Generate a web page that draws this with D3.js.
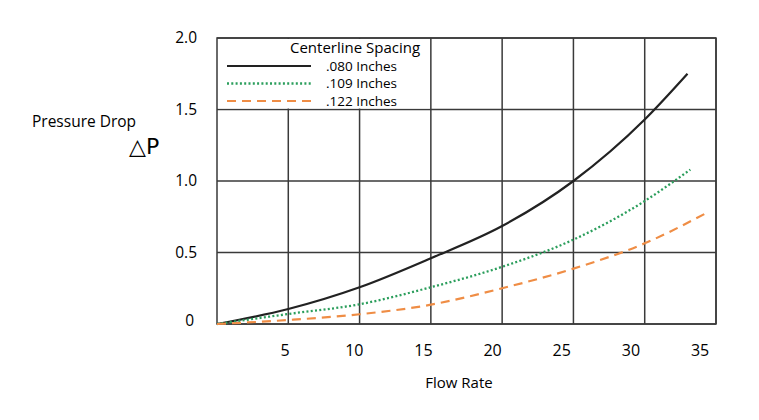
<!DOCTYPE html>
<html>
<head>
<meta charset="utf-8">
<script src="https://cdn.jsdelivr.net/npm/d3@7"></script>
<style>
  body { margin: 0; background: #fff; }
  text { font-family: "Open Sans", sans-serif; fill: #000; }
</style>
</head>
<body>
<svg id="chart"></svg>
<script>
// values
const xTicks = [5, 10, 15, 20, 25, 30, 35];
const yTicks = [0, 0.5, 1.0, 1.5, 2.0];
const yTickLabels = ['0', '0.5', '1.0', '1.5', '2.0'];

const flow080 = [0, 5, 10, 15, 20, 25, 30, 33];
const dp080   = [0, 0.105, 0.257, 0.46, 0.685, 1.0, 1.43, 1.75];

const flow109 = [0, 5, 10, 15, 20, 25, 30, 33.2];
const dp109   = [0, 0.07, 0.138, 0.257, 0.40, 0.59, 0.86, 1.08];

const flow122 = [0, 5, 10, 15, 20, 25, 30, 34.4];
const dp122   = [0, 0.028, 0.068, 0.135, 0.25, 0.387, 0.564, 0.78];

const seriesNames = ['.080 Inches', '.109 Inches', '.122 Inches'];

const config = {
  width: 759, height: 420,
  margin: {top: 38, right: 43, bottom: 96, left: 217}
};

const series = [
  {name: seriesNames[0], x: flow080, y: dp080, color: '#222222', dash: null, w: 2.2},
  {name: seriesNames[1], x: flow109, y: dp109, color: '#2b9e5c', dash: '2,2.3', w: 2.3},
  {name: seriesNames[2], x: flow122, y: dp122, color: '#ef8d45', dash: '9,6', w: 2.2}
];

const width = config.width - config.margin.left - config.margin.right;
const height = config.height - config.margin.top - config.margin.bottom;

const svg = d3.select('#chart')
  .attr('width', config.width)
  .attr('height', config.height);

const chart = svg.append('g')
  .attr('transform', `translate(${config.margin.left}, ${config.margin.top})`);

const xScale = d3.scaleLinear().domain([0, 35]).range([0, width]);
const yScale = d3.scaleLinear().domain([0, 2]).range([height, 0]);
// tick labels in the original sit a bit left of their grid lines
const xLabelScale = d3.scaleLinear().domain([0, 35]).range([-1, width * 0.968]);

const gridColor = '#3a3a3a';

// grid
chart.selectAll('.vgrid')
  .data(xTicks)
  .join('line')
    .attr('class', 'vgrid')
    .attr('x1', d => xScale(d)).attr('x2', d => xScale(d))
    .attr('y1', 0).attr('y2', height)
    .attr('stroke', gridColor).attr('stroke-width', 1.5);

chart.selectAll('.hgrid')
  .data(yTicks)
  .join('line')
    .attr('class', 'hgrid')
    .attr('x1', 0).attr('x2', width)
    .attr('y1', d => yScale(d)).attr('y2', d => yScale(d))
    .attr('stroke', gridColor).attr('stroke-width', 1.5);

// legend box covers grid in the top-left cell block
chart.append('rect')
  .attr('x', xScale(0) + 1)
  .attr('y', yScale(2) + 1)
  .attr('width', xScale(15) - xScale(0) - 2)
  .attr('height', yScale(1.5) - yScale(2) - 2)
  .attr('fill', '#fff');

chart.append('rect')
  .attr('x', 0).attr('y', 0)
  .attr('width', width).attr('height', height)
  .attr('fill', 'none')
  .attr('stroke', gridColor).attr('stroke-width', 1.5);

// curves
const line = d3.line()
  .x(d => xScale(d[0]))
  .y(d => yScale(d[1]))
  .curve(d3.curveMonotoneX);

chart.selectAll('.curve')
  .data(series)
  .join('path')
    .attr('class', 'curve')
    .attr('d', s => line(s.x.map((v, i) => [v, s.y[i]])))
    .attr('fill', 'none')
    .attr('stroke', s => s.color)
    .attr('stroke-width', s => s.w)
    .attr('stroke-dasharray', s => s.dash);

// axes labels
chart.selectAll('.ytick')
  .data(yTicks)
  .join('text')
    .attr('class', 'ytick')
    .attr('x', (d, i) => i === 0 ? -23 : -20)
    .attr('y', (d, i) => yScale(d) - (i === 0 ? 3 : 0))
    .attr('dy', '0.35em')
    .attr('text-anchor', 'end')
    .style('font-size', '15.5px')
    .text((d, i) => yTickLabels[i]);

chart.selectAll('.xtick')
  .data(xTicks)
  .join('text')
    .attr('class', 'xtick')
    .attr('x', d => xLabelScale(d))
    .attr('y', height + 26)
    .attr('dy', '0.35em')
    .attr('text-anchor', 'middle')
    .style('font-size', '16px')
    .text(d => d);

svg.append('text')
  .attr('x', 459)
  .attr('y', 388)
  .attr('text-anchor', 'middle')
  .style('font-size', '15px')
  .text('Flow Rate');

svg.append('text')
  .attr('x', 32)
  .attr('y', 127)
  .style('font-size', '15.5px')
  .text('Pressure Drop');

svg.append('text')
  .attr('x', 129)
  .attr('y', 154)
  .style('font-size', '22px')
  .style('font-family', '"DejaVu Sans", sans-serif')
  .text('\u25B3P');

// legend
const legend = chart.append('g');

legend.append('text')
  .attr('x', 73)
  .attr('y', 15)
  .style('font-size', '15px')
  .text('Centerline Spacing');

const legendRows = legend.selectAll('.legend-row')
  .data(series)
  .join('g')
    .attr('class', 'legend-row')
    .attr('transform', (d, i) => `translate(0, ${28 + i * 17.5})`);

legendRows.append('line')
  .attr('x1', 10).attr('x2', 94)
  .attr('y1', 0).attr('y2', 0)
  .attr('stroke', d => d.color)
  .attr('stroke-width', d => d.w)
  .attr('stroke-dasharray', d => d.dash);

legendRows.append('text')
  .attr('x', 109)
  .attr('y', 0)
  .attr('dy', '0.35em')
  .style('font-size', '13.5px')
  .text(d => d.name);
</script>
</body>
</html>
